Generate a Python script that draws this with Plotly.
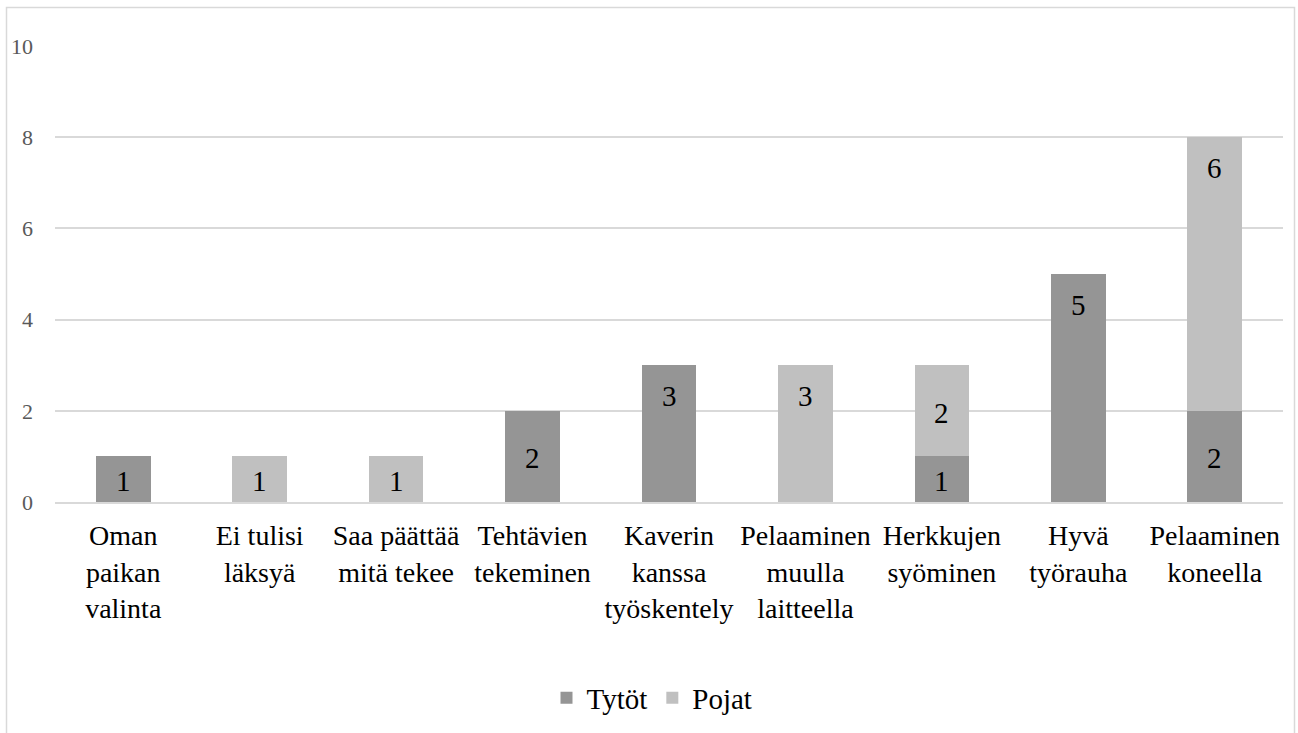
import plotly.graph_objects as go

categories = ["Oman<br>paikan<br>valinta", "Ei tulisi<br>läksyä", "Saa päättää<br>mitä tekee",
              "Tehtävien<br>tekeminen", "Kaverin<br>kanssa<br>työskentely", "Pelaaminen<br>muulla<br>laitteella",
              "Herkkujen<br>syöminen", "Hyvä<br>työrauha", "Pelaaminen<br>koneella"]
tytot = [1, 0, 0, 2, 3, 0, 1, 5, 2]
pojat = [0, 1, 1, 0, 0, 3, 2, 0, 6]
y_ticks = [0, 2, 4, 6, 8, 10]

series = [("Tytöt", tytot, "#959595"), ("Pojat", pojat, "#c0c0c0")]

FONT = "Liberation Serif"
W, H = 1298, 733
L, R, T, B = 55, 15, 46, 231

fig = go.Figure()
for name, vals, col in series:
    fig.add_trace(go.Bar(name=name, x=categories, y=vals,
                         marker=dict(color=col, line=dict(width=0))))

# data labels (Excel style): tall segments labelled near the top, short ones centred
base = [0] * len(categories)
for name, vals, col in series:
    for i, v in enumerate(vals):
        if v > 0:
            if v >= 3:
                fig.add_annotation(x=categories[i], y=base[i] + v, text=str(v), showarrow=False,
                                   yanchor="middle", yshift=-31,
                                   font=dict(family=FONT, size=29, color="#000000"))
            else:
                fig.add_annotation(x=categories[i], y=base[i] + v / 2, text=str(v), showarrow=False,
                                   yanchor="middle", yshift=-2,
                                   font=dict(family=FONT, size=29, color="#000000"))
        base[i] += v

pw = W - L - R
ph = H - T - B
fig.add_shape(type="rect", xref="paper", yref="paper",
              x0=(6.5 - L) / pw, x1=(1294.5 - L) / pw,
              y0=(H - 760 - B) / ph, y1=(H - 7.5 - B) / ph,
              line=dict(color="#d9d9d9", width=1.5), fillcolor="rgba(0,0,0,0)", layer="below")

fig.update_layout(
    barmode="stack", bargap=0.6,
    width=W, height=H,
    margin=dict(l=L, r=R, t=T, b=B, autoexpand=False),
    paper_bgcolor="white", plot_bgcolor="white",
    font=dict(family=FONT),
    showlegend=True,
    legend=dict(orientation="h", x=0.5 - 17 / pw, xanchor="center", y=(H - 698 - B) / ph, yanchor="middle",
                font=dict(family=FONT, size=29, color="#000000"), itemwidth=30,
                traceorder="normal"),
    xaxis=dict(showgrid=False, showline=True, linecolor="#d9d9d9", linewidth=1.5,
               tickfont=dict(family=FONT, size=28, color="#000000"), ticks="",
               ticklabelstandoff=8, tickangle=0),
    yaxis=dict(range=[0, 10], tickvals=y_ticks, showgrid=True, gridcolor="#d9d9d9", gridwidth=1.5,
               zeroline=False, showline=False,
               tickfont=dict(family=FONT, size=22, color="#595959"), ticks="",
               ticklabelstandoff=21),
)

fig.write_html("out.html")
